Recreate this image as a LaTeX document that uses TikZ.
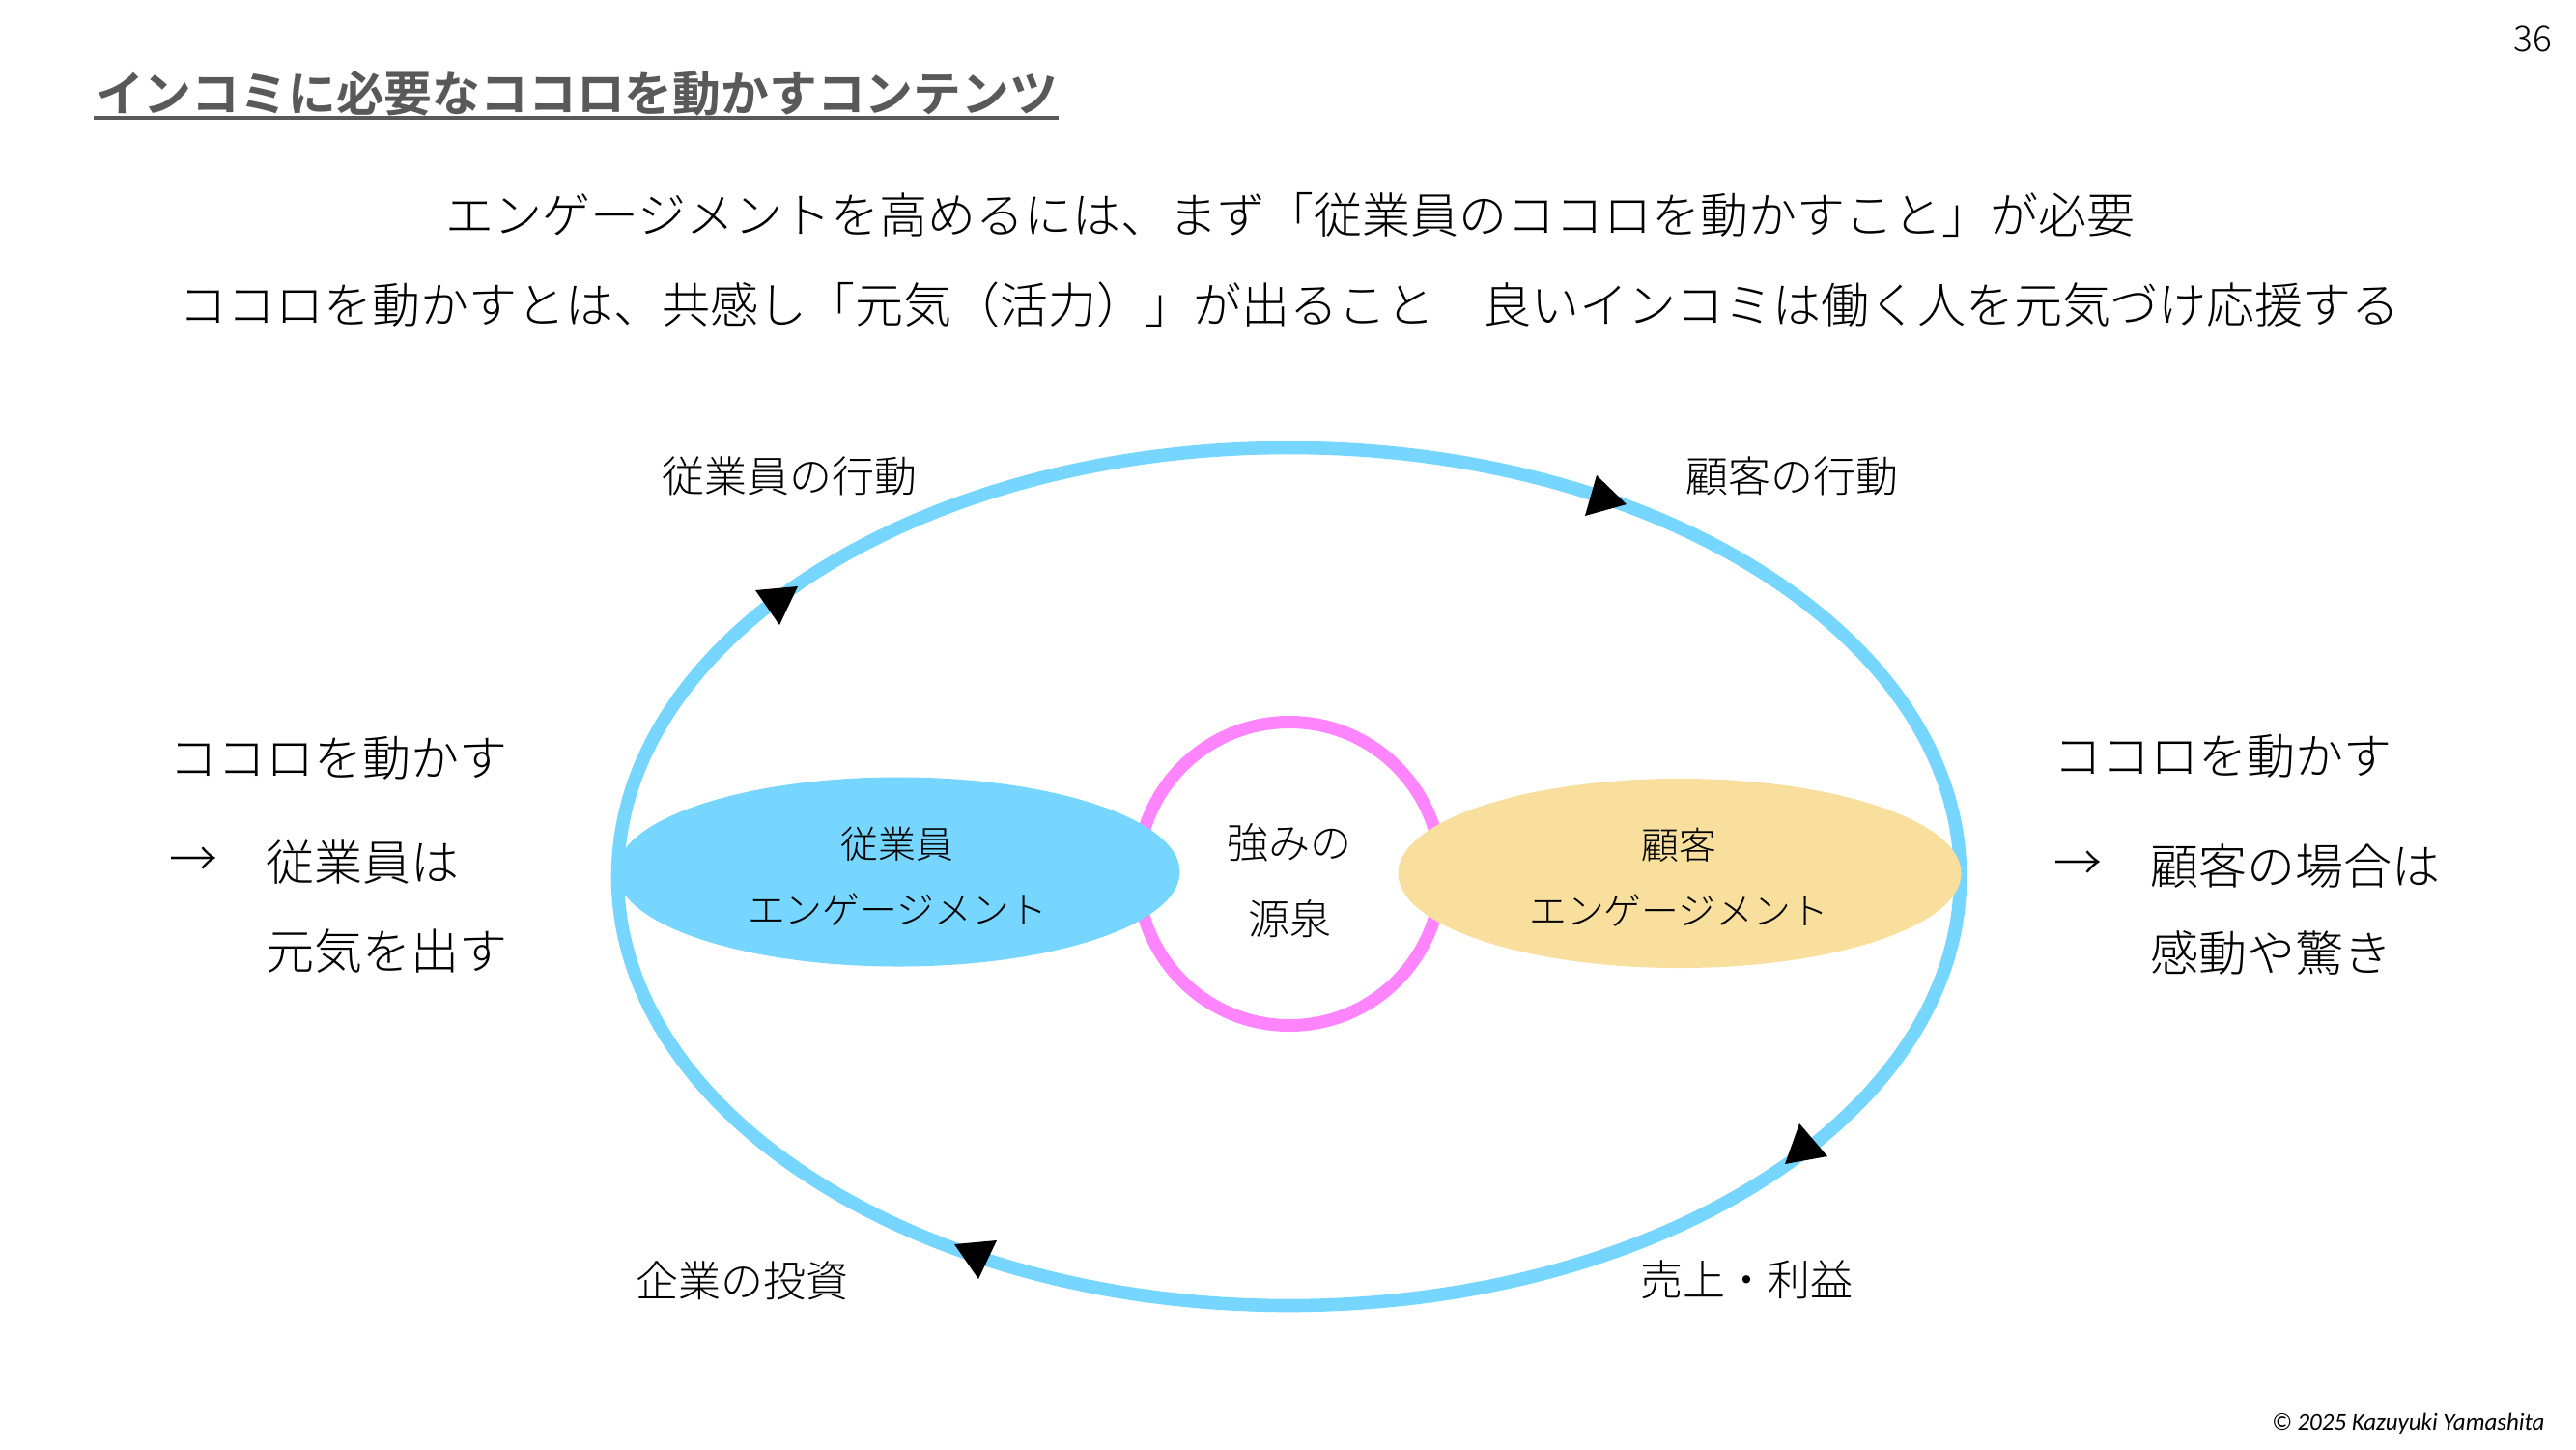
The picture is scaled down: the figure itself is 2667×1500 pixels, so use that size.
\documentclass[tikz,border=0pt]{standalone}
\usepackage{fontspec}
\newfontfamily\jp{Noto Sans CJK JP Light}
\newfontfamily\jpb{Noto Sans CJK JP Bold}
\setmainfont{Carlito}
\definecolor{skyb}{HTML}{76D6FF}
\definecolor{pinkc}{HTML}{FF85FF}
\definecolor{tanc}{HTML}{F8DF9D}
\definecolor{titleg}{HTML}{595959}
\tikzset{
  x=0.5pt,y=-0.5pt,
  tx/.style={inner sep=0pt,font=\jp\fontsize{#1}{#1}\selectfont,text=black},
  ringline/.style={line width=6.8pt,draw=skyb},
  headtri/.style={fill=black,draw=none},
}
\begin{document}
\begin{tikzpicture}
\useasboundingbox (0,0) rectangle (2667,1500);
\fill[white] (0,0) rectangle (2667,1500);
% title
\node[inner sep=0pt,anchor=center,font=\jpb\fontsize{24.9}{25}\selectfont,text=titleg] (title) at (597,97) {インコミに必要なココロを動かすコンテンツ};
\coordinate (ul1) at (97,122); \coordinate (ul2) at (1096,122);
\draw[titleg,line width=1.7pt] (ul1) -- (ul2);
\node[tx=25] (l1) at (1336,222) {エンゲージメントを高めるには、まず「従業員のココロを動かすこと」が必要};
\node[tx=25] (l2) at (1335,315) {ココロを動かすとは、共感し「元気（活力）」が出ること　良いインコミは働く人を元気づけ応援する};
% rings
\draw[ringline] (1334.5,907.5) ellipse [x radius=695,y radius=444];
\draw[line width=6.5pt,draw=pinkc,fill=white] (1335,904.5) ellipse [x radius=157,y radius=157];
\fill[skyb] (930,902.5) ellipse [x radius=291.5,y radius=98];
\fill[tanc] (1739,904) ellipse [x radius=291.5,y radius=98];
% arrowheads
\fill[headtri] (1653,492) -- (1684,522) -- (1641,534) -- cycle;
\fill[headtri] (782,611) -- (826,607) -- (807,647) -- cycle;
\fill[headtri] (1863,1163) -- (1892,1197) -- (1848,1205) -- cycle;
\fill[headtri] (988,1288) -- (1032,1284) -- (1013,1324) -- cycle;
% labels
\node[tx=22] (a1) at (817,493) {従業員の行動};
\node[tx=22] (a2) at (1855,493) {顧客の行動};
\node[tx=22] (a3) at (768,1326) {企業の投資};
\node[tx=22] (a4) at (1808,1325) {売上・利益};
\node[tx=25,anchor=west] (b1) at (175,784.5) {ココロを動かす};
\node[tx=25] (b2) at (200,892) {→};
\node[tx=25,anchor=west] (b3) at (275,892.5) {従業員は};
\node[tx=25,anchor=west] (b4) at (275,984.5) {元気を出す};
\node[tx=25,anchor=west] (c1) at (2126,782.5) {ココロを動かす};
\node[tx=25] (c2) at (2151,896) {→};
\node[tx=25,anchor=west] (c3) at (2226,896.5) {顧客の場合は};
\node[tx=25,anchor=west] (c4) at (2226,986.5) {感動や驚き};
\node[tx=21.5] (d1) at (1335,872) {強みの};
\node[tx=21.5] (d2) at (1335,951) {源泉};
\node[tx=19.4] (e1) at (929,874) {従業員};
\node[tx=19.4] (e2) at (929,942) {エンゲージメント};
\node[tx=19.4] (f1) at (1738,875) {顧客};
\node[tx=19.4] (f2) at (1738,943) {エンゲージメント};
\node[inner sep=0pt,font=\jp\fontsize{18.5}{19}\selectfont] (pg) at (2622,40) {36};
\node[inner sep=0pt,font=\itshape\fontsize{12.5}{13}\selectfont,anchor=east] (cp) at (2635,1474) {© 2025 Kazuyuki Yamashita};
\end{tikzpicture}
\end{document}
